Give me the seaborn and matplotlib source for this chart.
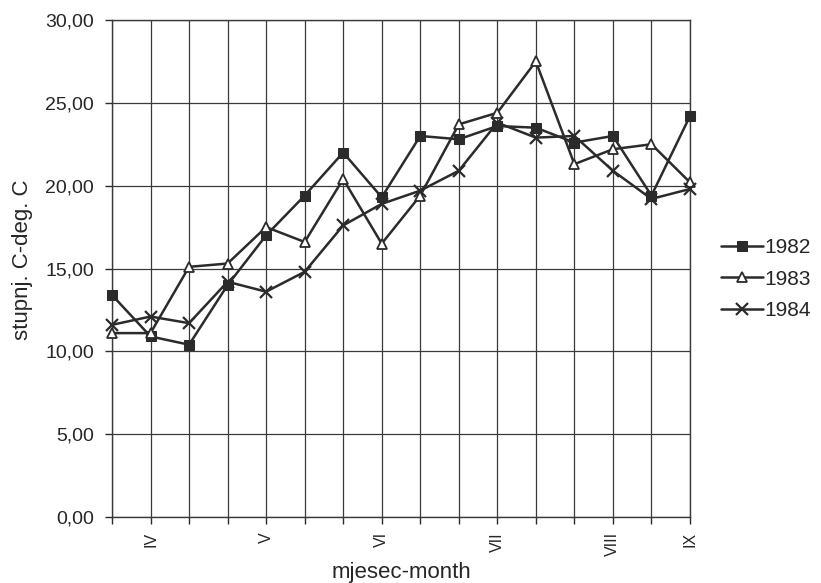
import matplotlib
matplotlib.use("Agg")
import matplotlib.pyplot as plt
import numpy as np
import pandas as pd
import seaborn as sns
from matplotlib.ticker import FuncFormatter

# %%
# 16 readings, April to September
points = list(range(16))
month_labels = ["", "IV", "", "", "V", "", "", "VI", "", "", "VII", "", "", "VIII", "", "IX"]

t1982 = [13.4, 10.9, 10.4, 14.0, 17.0, 19.4, 22.0, 19.3, 23.0, 22.8, 23.6, 23.5, 22.6, 23.0, 19.4, 24.2]
t1983 = [11.1, 11.1, 15.1, 15.3, 17.5, 16.6, 20.4, 16.5, 19.4, 23.7, 24.4, 27.5, 21.3, 22.2, 22.5, 20.2]
t1984 = [11.6, 12.1, 11.7, 14.2, 13.6, 14.8, 17.6, 18.9, 19.7, 20.9, 23.8, 22.9, 23.0, 20.9, 19.2, 19.8]

# %%
sns.set_style("white")
plt.rcParams["font.family"] = ["Liberation Sans", "DejaVu Sans"]

df = pd.DataFrame({"point": points, "1982": t1982, "1983": t1983, "1984": t1984})

fig, ax = plt.subplots(figsize=(8.21, 5.83), dpi=100)
fig.subplots_adjust(left=0.1364, right=0.8404, bottom=0.1132, top=0.9657)

ink = "#2b2b2b"
styles = {
    "1982": dict(marker="s", markersize=7, markerfacecolor=ink, markeredgecolor=ink),
    "1983": dict(marker="^", markersize=7.5, markerfacecolor="white", markeredgecolor=ink, markeredgewidth=1.3),
    "1984": dict(marker="x", markersize=8, markeredgecolor=ink, markeredgewidth=1.6),
}
for year, st in styles.items():
    sns.lineplot(data=df, x="point", y=year, ax=ax, color=ink, linewidth=1.8,
                 label=year, clip_on=False, zorder=3, **st)

ax.set_xlim(0, 15)
ax.set_ylim(0, 30)
ax.set_xticks(points)
ax.set_xticklabels(month_labels, rotation=90, fontsize=11.5)
ax.set_yticks(np.arange(0, 31, 5))
ax.yaxis.set_major_formatter(FuncFormatter(lambda v, _: f"{v:.2f}".replace(".", ",")))
ax.tick_params(axis="y", labelsize=14, length=5, width=1, color=ink, direction="out", pad=8, left=True)
ax.tick_params(axis="x", length=5, width=1, color=ink, direction="out", pad=6, bottom=True)

ax.grid(True, color="#3a3a3a", linewidth=0.9)
for sp in ax.spines.values():
    sp.set_color("#3a3a3a")
    sp.set_linewidth(1)

ax.set_xlabel("mjesec-month", fontsize=16, labelpad=4)
ax.set_ylabel("stupnj. C-deg. C", fontsize=16)
ax.yaxis.set_label_coords(-0.137, 0.517)

ax.legend(loc="center left", bbox_to_anchor=(0.878, 0.521), bbox_transform=fig.transFigure,
          frameon=False, fontsize=15, handlelength=2.0, handletextpad=0.1,
          labelspacing=0.6, borderpad=0, borderaxespad=0)

fig.savefig("out.png", dpi=100)
